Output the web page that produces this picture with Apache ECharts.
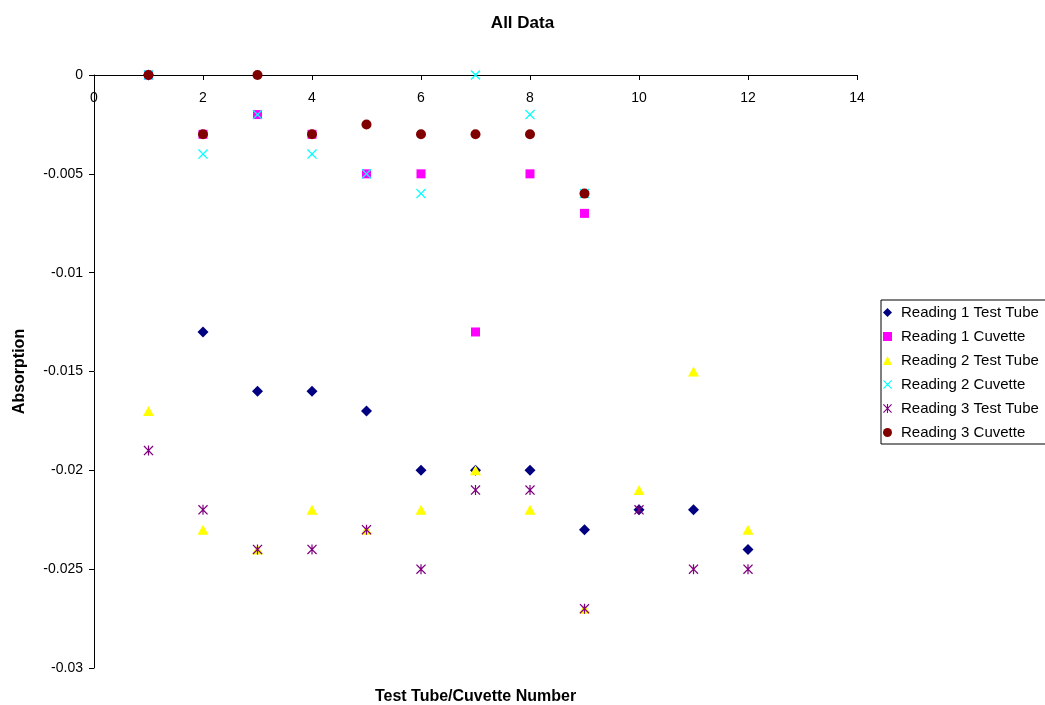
<!DOCTYPE html>
<html>
<head>
<meta charset="utf-8">
<script src="https://cdn.jsdelivr.net/npm/echarts@6/dist/echarts.min.js"></script>
<style>html,body{margin:0;padding:0;background:#fff;}#c{width:1045px;height:705px;}</style>
</head>
<body>
<div id="c"></div>
<script>
var seriesNames = ['Reading 1 Test Tube','Reading 1 Cuvette','Reading 2 Test Tube','Reading 2 Cuvette','Reading 3 Test Tube','Reading 3 Cuvette'];
var tubeNumbers = [1,2,3,4,5,6,7,8,9,10,11,12];
var cuvetteNumbers = [1,2,3,4,5,6,7,8,9];
var r1TestTube = [0,-0.013,-0.016,-0.016,-0.017,-0.020,-0.020,-0.020,-0.023,-0.022,-0.022,-0.024];
var r1Cuvette = [0,-0.003,-0.002,-0.003,-0.005,-0.005,-0.013,-0.005,-0.007];
var r2TestTube = [-0.017,-0.023,-0.024,-0.022,-0.023,-0.022,-0.020,-0.022,-0.027,-0.021,-0.015,-0.023];
var r2Cuvette = [0,-0.004,-0.002,-0.004,-0.005,-0.006,0,-0.002,-0.006];
var r3TestTube = [-0.019,-0.022,-0.024,-0.024,-0.023,-0.025,-0.021,-0.021,-0.027,-0.022,-0.025,-0.025];
var r3Cuvette = [0,-0.003,0,-0.003,-0.0025,-0.003,-0.003,-0.003,-0.006];

function pair(xs, ys){ return ys.map(function(v,i){ return [xs[i], v]; }); }

var xPath = 'path://M0,0.9 L0.9,0 L5,4.1 L9.1,0 L10,0.9 L5.9,5 L10,9.1 L9.1,10 L5,5.9 L0.9,10 L0,9.1 L4.1,5 Z';
var starPath = 'path://M0,0.9 L0.9,0 L5,4.1 L9.1,0 L10,0.9 L5.9,5 L10,9.1 L9.1,10 L5,5.9 L0.9,10 L0,9.1 L4.1,5 Z M4.4,0 L5.6,0 L5.6,10 L4.4,10 Z';

var defs = [
  {data: pair(tubeNumbers, r1TestTube), symbol: 'diamond', size: [11,11], color: '#000080'},
  {data: pair(cuvetteNumbers, r1Cuvette), symbol: 'rect', size: [9,9], color: '#FF00FF'},
  {data: pair(tubeNumbers, r2TestTube), symbol: 'triangle', size: [11,10], color: '#FFFF00'},
  {data: pair(cuvetteNumbers, r2Cuvette), symbol: xPath, size: [10,10], color: '#00FFFF'},
  {data: pair(tubeNumbers, r3TestTube), symbol: starPath, size: [10,10], color: '#800080'},
  {data: pair(cuvetteNumbers, r3Cuvette), symbol: 'circle', size: [10,10], color: '#800000'}
];

var font = 'Liberation Sans, Arial, sans-serif';
var chart = echarts.init(document.getElementById('c'), null, {renderer: 'canvas'});
chart.setOption({
  animation: false,
  backgroundColor: '#ffffff',
  title: {
    text: 'All Data', left: 'center', top: 10,
    textStyle: {fontFamily: font, fontSize: 17, fontWeight: 'bold', color: '#000'}
  },
  legend: {
    orient: 'vertical', left: 881, top: 300,
    itemWidth: 9, itemHeight: 9, itemGap: 9,
    padding: [5, 30, 4, 2],
    borderColor: '#000', borderWidth: 1,
    textStyle: {fontFamily: font, fontSize: 15, color: '#000', lineHeight: 15, padding: [0,0,0,4]},
    data: seriesNames
  },
  grid: {left: 94, right: 188, top: 75, bottom: 37, containLabel: false, outerBoundsMode: 'none'},
  xAxis: [{
    type: 'value', position: 'top', min: 0, max: 14, interval: 2,
    axisLine: {show: true, onZero: false, lineStyle: {color: '#000', width: 1}},
    axisTick: {show: true, inside: true, length: 5, lineStyle: {color: '#000'}},
    axisLabel: {inside: true, margin: 16, fontFamily: font, fontSize: 14, color: '#000'},
    splitLine: {show: false}
  }, {
    type: 'value', position: 'bottom', min: 0, max: 14,
    axisLine: {show: false}, axisTick: {show: false}, axisLabel: {show: false}, splitLine: {show: false},
    name: 'Test Tube/Cuvette Number', nameLocation: 'middle', nameGap: 21,
    nameTextStyle: {fontFamily: font, fontSize: 16, fontWeight: 'bold', color: '#000'}
  }],
  yAxis: {
    type: 'value', min: -0.03, max: 0, interval: 0.005,
    axisLine: {show: true, onZero: false, lineStyle: {color: '#000', width: 1}},
    axisTick: {show: true, length: 5, lineStyle: {color: '#000'}},
    axisLabel: {margin: 11, fontFamily: font, fontSize: 14, color: '#000'},
    splitLine: {show: false},
    name: 'Absorption', nameLocation: 'middle', nameGap: 66, nameRotate: 90,
    nameTextStyle: {fontFamily: font, fontSize: 16, fontWeight: 'bold', color: '#000'}
  },
  series: defs.map(function(d, i){
    return {
      name: seriesNames[i], type: 'scatter', xAxisIndex: 0,
      symbol: d.symbol, symbolSize: d.size,
      itemStyle: {color: d.color, opacity: 1},
      data: d.data, z: 2 + i
    };
  })
});
</script>
</body>
</html>
